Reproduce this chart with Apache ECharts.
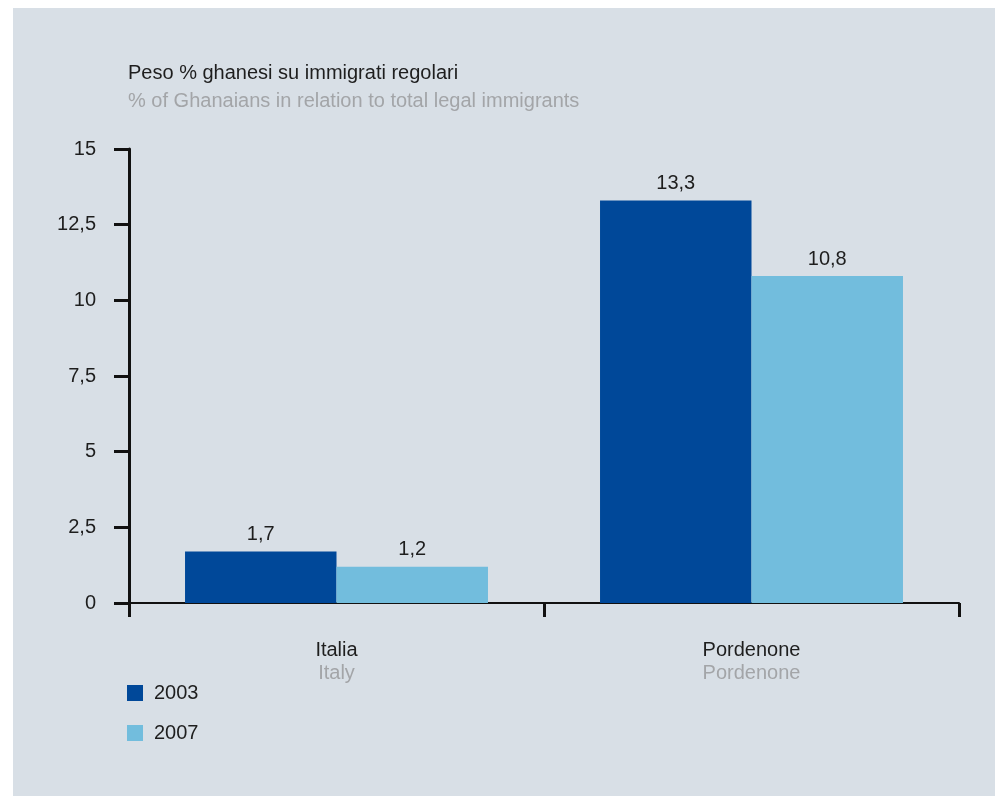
<!DOCTYPE html>
<html>
<head>
<meta charset="utf-8">
<script src="https://cdn.jsdelivr.net/npm/echarts@6/dist/echarts.min.js"></script>
<style>
  html, body { margin: 0; padding: 0; background: #ffffff; }
  #chart { width: 995px; height: 796px; }
</style>
</head>
<body>
<div id="chart"></div>
<script>
// Share of Ghanaians among legal immigrants, Italy vs Pordenone
const categoriesIt = ['Italia', 'Pordenone'];
const categoriesEn = ['Italy', 'Pordenone'];
const years = ['2003', '2007'];
const values2003 = [1.7, 13.3];
const values2007 = [1.2, 10.8];
const yTicks = [0, 2.5, 5, 7.5, 10, 12.5, 15];

const FONT = '"Liberation Sans", Arial, sans-serif';
const FS = 20;
const fmt = v => String(v).replace('.', ',');

const chart = echarts.init(document.getElementById('chart'), null, { renderer: 'canvas' });

chart.setOption({
  backgroundColor: '#ffffff',
  animation: false,
  graphic: [{
    type: 'rect',
    z: -10,
    silent: true,
    shape: { x: 13, y: 8, width: 982, height: 788 },
    style: { fill: '#d8dfe6' }
  }],
  title: {
    text: 'Peso % ghanesi su immigrati regolari',
    subtext: '% of Ghanaians in relation to total legal immigrants',
    left: 123,
    top: 58,
    itemGap: 8,
    textStyle: { fontFamily: FONT, fontSize: FS, fontWeight: 'normal', color: '#1e1e1e' },
    subtextStyle: { fontFamily: FONT, fontSize: FS, color: '#a3a5a8' }
  },
  legend: {
    orient: 'vertical',
    left: 122,
    top: 678,
    itemWidth: 16,
    itemHeight: 16,
    itemGap: 20,
    icon: 'rect',
    data: years,
    textStyle: { fontFamily: FONT, fontSize: FS, color: '#1e1e1e', padding: [0, 0, 0, 6] }
  },
  grid: { left: 129, right: 36, top: 149, bottom: 193, containLabel: false },
  xAxis: {
    type: 'category',
    data: categoriesIt,
    axisLine: { lineStyle: { color: '#111', width: 2 } },
    axisTick: { show: true, length: 14, lineStyle: { color: '#111', width: 3 } },
    axisLabel: {
      margin: 36,
      formatter: (v, i) => '{a|' + v + '}\n{b|' + categoriesEn[i] + '}',
      rich: {
        a: { fontFamily: FONT, fontSize: FS, color: '#1e1e1e', lineHeight: 23 },
        b: { fontFamily: FONT, fontSize: FS, color: '#a3a5a8', lineHeight: 23 }
      }
    }
  },
  yAxis: {
    type: 'value',
    min: yTicks[0],
    max: yTicks[yTicks.length - 1],
    interval: 2.5,
    splitLine: { show: false },
    axisLine: { show: true, lineStyle: { color: '#111', width: 3 } },
    axisTick: { show: true, length: 15, lineStyle: { color: '#111', width: 3 } },
    axisLabel: {
      margin: 33,
      fontFamily: FONT,
      fontSize: FS,
      color: '#1e1e1e',
      formatter: v => fmt(v)
    }
  },
  series: [
    {
      name: years[0],
      type: 'bar',
      data: values2003,
      barGap: '0%',
      barCategoryGap: '27%',
      itemStyle: { color: '#004899' },
      label: {
        show: true, position: 'top', distance: 7,
        fontFamily: FONT, fontSize: FS, color: '#1e1e1e',
        formatter: p => fmt(p.value)
      }
    },
    {
      name: years[1],
      type: 'bar',
      data: values2007,
      barGap: '0%',
      barCategoryGap: '27%',
      itemStyle: { color: '#72bddd' },
      label: {
        show: true, position: 'top', distance: 7,
        fontFamily: FONT, fontSize: FS, color: '#1e1e1e',
        formatter: p => fmt(p.value)
      }
    }
  ]
});
</script>
</body>
</html>
